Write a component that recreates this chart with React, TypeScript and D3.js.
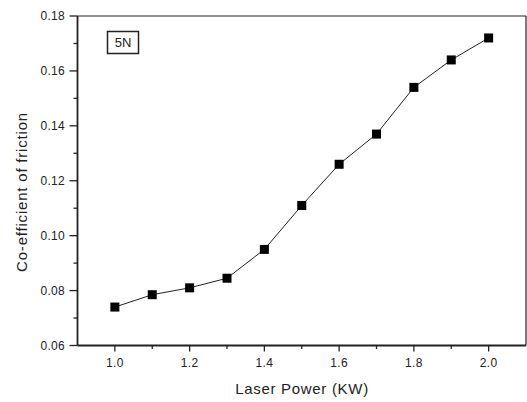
import React from "react";
import * as d3 from "d3";

const power = [1.0, 1.1, 1.2, 1.3, 1.4, 1.5, 1.6, 1.7, 1.8, 1.9, 2.0];
const friction = [0.074, 0.0785, 0.081, 0.0845, 0.095, 0.111, 0.126, 0.137, 0.154, 0.164, 0.172];
const xTicks = [1.0, 1.2, 1.4, 1.6, 1.8, 2.0];
const yTicks = [0.06, 0.08, 0.1, 0.12, 0.14, 0.16, 0.18];
const loadLabel = "5N";

const width = 527;
const height = 402;
const left = 77.5;
const right = 526;
const top = 16;
const bottom = 345.5;
const ink = "#222";
const font = "'Liberation Sans', Arial, sans-serif";

const App = () => {
  const x = d3.scaleLinear().domain([0.9, 2.1]).range([left, right]);
  const y = d3.scaleLinear().domain([0.06, 0.18]).range([bottom, top]);

  const xMinor = d3.range(10, 21).map((d) => d / 10).filter((d) => !xTicks.some((t) => Math.abs(t - d) < 1e-6));
  const yMinor = d3.range(6, 19).map((d) => d / 100).filter((d) => !yTicks.some((t) => Math.abs(t - d) < 1e-6));

  const line = d3
    .line<number>()
    .x((d, i) => x(power[i]))
    .y((d) => y(d));

  return (
    <div style={{ position: "absolute", left: 0, top: 0 }}>
      <svg width={width} height={height} style={{ display: "block", background: "#fff" }}>
        {/* frame */}
        <line x1={left} x2={right} y1={top} y2={top} stroke={ink} strokeWidth={1.2} />
        <line x1={right} x2={right} y1={top} y2={bottom} stroke={ink} strokeWidth={1.2} />
        <line x1={left} x2={left} y1={top} y2={bottom} stroke={ink} strokeWidth={1.8} />
        <line x1={left} x2={right} y1={bottom} y2={bottom} stroke={ink} strokeWidth={1.8} />

        {/* y ticks */}
        {yTicks.map((t) => (
          <g key={"y" + t}>
            <line x1={left - 8} x2={left} y1={y(t)} y2={y(t)} stroke={ink} strokeWidth={1.3} />
            <text
              x={65}
              y={y(t) + 4}
              textAnchor="end"
              fontFamily={font}
              fontSize={12}
              letterSpacing={0.3}
              fill={ink}
            >
              {t.toFixed(2)}
            </text>
          </g>
        ))}
        {yMinor.map((t) => (
          <line key={"ym" + t} x1={left - 4} x2={left} y1={y(t)} y2={y(t)} stroke={ink} strokeWidth={1.3} />
        ))}

        {/* x ticks */}
        {xTicks.map((t) => (
          <g key={"x" + t}>
            <line x1={x(t)} x2={x(t)} y1={bottom} y2={bottom + 6} stroke={ink} strokeWidth={1.3} />
            <text
              x={x(t)}
              y={367}
              textAnchor="middle"
              fontFamily={font}
              fontSize={12}
              letterSpacing={0.3}
              fill={ink}
            >
              {t.toFixed(1)}
            </text>
          </g>
        ))}
        {xMinor.map((t) => (
          <line key={"xm" + t} x1={x(t)} x2={x(t)} y1={bottom} y2={bottom + 3.5} stroke={ink} strokeWidth={1.3} />
        ))}

        {/* axis titles */}
        <text
          x={302}
          y={394}
          textAnchor="middle"
          fontFamily={font}
          fontSize={15}
          letterSpacing={0.7}
          fill={ink}
        >
          Laser Power (KW)
        </text>
        <text
          transform={`translate(27, 192) rotate(-90)`}
          textAnchor="middle"
          fontFamily={font}
          fontSize={15}
          letterSpacing={0.8}
          fill={ink}
        >
          Co-efficient of friction
        </text>

        {/* data */}
        <path d={line(friction) || ""} fill="none" stroke={ink} strokeWidth={1} />
        {friction.map((v, i) => (
          <rect key={i} x={x(power[i]) - 4.5} y={y(v) - 4.5} width={9} height={9} fill="#000" />
        ))}

        {/* legend box */}
        <rect x={107.5} y={31.5} width={31} height={22} fill="#fff" stroke={ink} strokeWidth={1.5} />
        <text x={123} y={47} textAnchor="middle" fontFamily={font} fontSize={13} fill={ink}>
          {loadLabel}
        </text>
      </svg>
    </div>
  );
};

export default App;
